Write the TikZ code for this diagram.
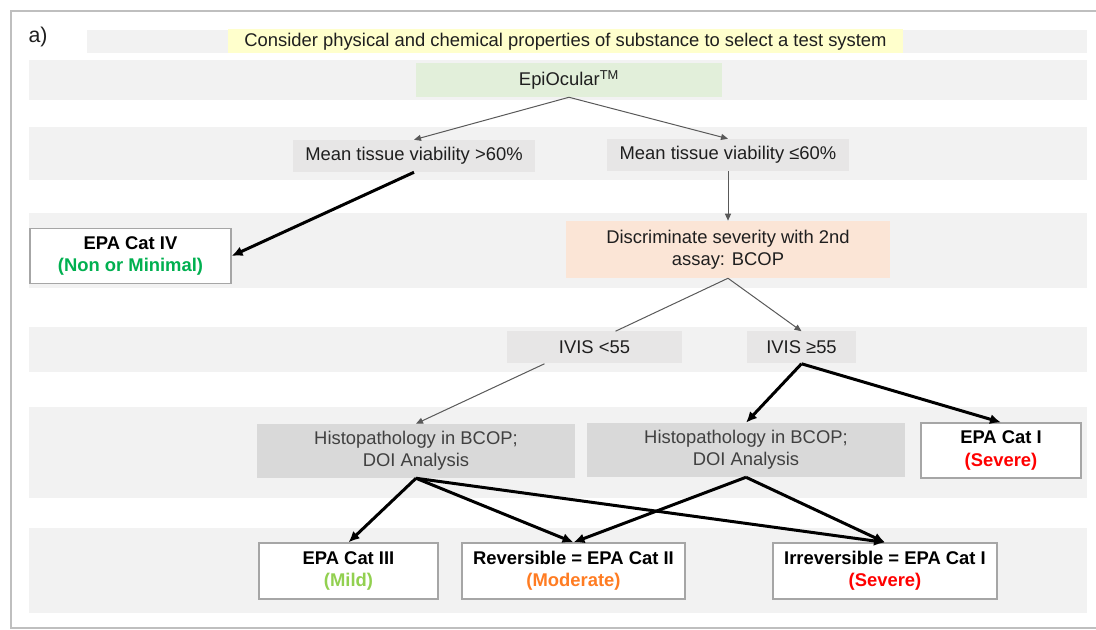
\documentclass[tikz,border=0pt]{standalone}
\usepackage{fontspec}
\setmainfont{Liberation Sans}
\usetikzlibrary{arrows.meta,positioning,calc}
\definecolor{bandgray}{HTML}{F2F2F2}
\definecolor{boxgray}{HTML}{E7E6E6}
\definecolor{histgray}{HTML}{D9D9D9}
\definecolor{paleyellow}{HTML}{FFFFCC}
\definecolor{palegreen}{HTML}{E2EFDA}
\definecolor{salmon}{HTML}{FBE5D6}
\definecolor{okgreen}{HTML}{00B050}
\definecolor{mildgreen}{HTML}{92D050}
\definecolor{modorange}{HTML}{FF7C22}
\definecolor{sevred}{HTML}{FF0000}
\definecolor{framegray}{HTML}{BFBFBF}
\newdimen\px \px=0.75pt

\tikzset{
  box/.style={inner sep=0pt,align=center,text=black!88,
              font=\fontsize{13.8}{16.8}\selectfont},
  choice/.style={box,fill=boxgray,minimum height=32\px},
  histo/.style={box,fill=histgray,text=black!75,minimum width=318\px,minimum height=54\px},
  result/.style={box,fill=white,draw=black!35,line width=1.2\px,text=black,
                 minimum height=56\px,font=\fontsize{13.8}{16.8}\selectfont\bfseries},
  thin/.style={draw=black!65,line width=1\px,-{Triangle[length=5.25pt,width=4.5pt]}},
  thick/.style={draw=black,line width=3\px,-{Latex[length=8.25pt,width=7.5pt]}}
}

\begin{document}
\begin{tikzpicture}[x=1\px,y=-1\px]
  \useasboundingbox (0,0) rectangle (1096,630);
  % grey bands
  \fill[bandgray] (87,30) rectangle (1087,53);
  \foreach \ya/\yb in {60/100,127/180,213/288,327/372,407/498,528/613}
    \fill[bandgray] (29,\ya) rectangle (1087,\yb);
  \draw[framegray,line width=1.5\px] (1096,11) -- (11,11) -- (11,628) -- (1096,628);

  \node[box,font=\fontsize{16}{18}\selectfont] (panel) at (38,37) {a)};
  \node[box,fill=paleyellow,minimum width=675\px,minimum height=24\px] (cons) at (565.5,41.5)
    {Consider physical and chemical properties of substance to select a test system};
  \node[box,fill=palegreen,minimum width=306\px,minimum height=34\px] (epi) at (569,80)
    {EpiOcular\textsuperscript{TM}};

  \node[choice,minimum width=242\px] (hi60) at (414,156) {Mean tissue viability >60\%};
  \node[choice,minimum width=242\px] (lo60) at (728,155) {Mean tissue viability ≤60\%};
  \node[result,minimum width=201\px,minimum height=55\px] (cat4) at (130.5,256)
    {EPA Cat IV\\\textcolor{okgreen}{(Non or Minimal)}};
  \node[box,fill=salmon,minimum width=324\px,minimum height=57\px] (bcop) at (728,249.5)
    {Discriminate severity with 2nd\\assay: BCOP};

  \node[choice,minimum width=175\px] (ivlo) at (594.5,347.5) {IVIS <55};
  \node[choice,minimum width=109\px] (ivhi) at (801.5,347.5) {IVIS ≥55};

  \node[histo] (histo1) at (416,451) {Histopathology in BCOP;\\DOI Analysis};
  \node[histo] (histo2) at (746,450) {Histopathology in BCOP;\\DOI Analysis};
  \node[result,minimum width=160\px,minimum height=55\px] (cat1) at (1001,450.5)
    {EPA Cat I\\\textcolor{sevred}{(Severe)}};

  \node[result,minimum width=179\px] (cat3) at (348.5,571) {EPA Cat III\\\textcolor{mildgreen}{(Mild)}};
  \node[result,minimum width=223\px] (rev) at (573.5,571) {Reversible = EPA Cat II\\\textcolor{modorange}{(Moderate)}};
  \node[result,minimum width=224\px] (irr) at (885,571) {Irreversible = EPA Cat I\\\textcolor{sevred}{(Severe)}};

  % connectors
  \draw[thin] (epi.south) -- (hi60.north);
  \draw[thin] (epi.south) -- (lo60.north);
  \draw[thin] (lo60.south) -- (bcop.north);
  \draw[thin,-] (bcop.south) -- ($(ivlo.north)+(21,0)$);
  \draw[thin] (bcop.south) -- (ivhi.north);
  \draw[thin] ($(ivlo.south)+(-50,0)$) -- (histo1.north);
  \draw[thick] (hi60.south) -- (cat4.east);
  \draw[thick] (ivhi.south) -- (histo2.north);
  \draw[thick] (ivhi.south) -- (cat1.north);
  \foreach \dst in {cat3,rev,irr}
    \draw[thick] (histo1.south) -- (\dst.north);
  \foreach \dst in {rev,irr}
    \draw[thick] (histo2.south) -- (\dst.north);
\end{tikzpicture}
\end{document}
